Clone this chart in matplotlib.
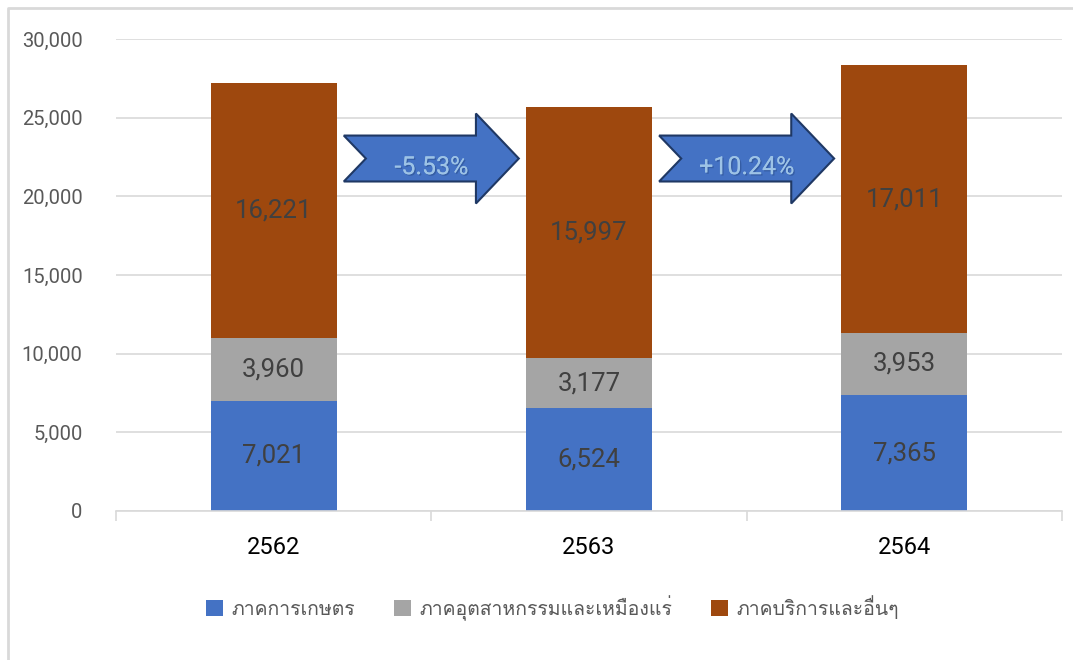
"""
Stacked bar chart of GDP by sector (2562-2564) with change arrows.
Saves out.png.
"""

import matplotlib

matplotlib.use("Agg")

import matplotlib.pyplot as plt
import matplotlib.patheffects as pe
from matplotlib import font_manager
from matplotlib.ft2font import FT2Font
from matplotlib.lines import Line2D
from matplotlib.patches import Polygon

# ---------------------------------------------------------------------------
# Data
# ---------------------------------------------------------------------------

YEARS = ["2562", "2563", "2564"]
SECTORS = ["ภาคการเกษตร", "ภาคอุตสาหกรรมและเหมืองแร่", "ภาคบริการและอื่นๆ"]
AGRI = [7021, 6524, 7365]
INDUSTRY = [3960, 3177, 3953]
SERVICE = [16221, 15997, 17011]

Y_TICKS = [0, 5000, 10000, 15000, 20000, 25000, 30000]

# Excel-ish palette
COLORS = ["#4472C4", "#A5A5A5", "#9E480E"]
GRID_COLOR = "#D9D9D9"
LABEL_COLOR = "#404040"
TICK_COLOR = "#595959"
ARROW_FILL = "#4472C4"
ARROW_EDGE = "#1F3864"
ARROW_TEXT = "#9DC3E6"


def find_thai_font():
    """Return the name of an installed family that has Thai glyphs, if any."""
    for f in font_manager.fontManager.ttflist:
        try:
            cmap = FT2Font(f.fname).get_charmap()
        except Exception:
            continue
        if 0x0E20 in cmap and 0x0E34 in cmap and 0x0E2D in cmap:
            return f.name
    return None


thai = find_thai_font()
families = ["Roboto", "DejaVu Sans"]
if thai:
    families.append(thai)
plt.rcParams["font.family"] = families
legend_families = ([thai] if thai else []) + ["Roboto", "DejaVu Sans"]


def arrow_shape(x0, length, yc, shaft_h, head_h, head_len, notch):
    """Notched block arrow outline, in data units."""
    x1 = x0 + length
    return [
        (x0, yc + shaft_h),
        (x1 - head_len, yc + shaft_h),
        (x1 - head_len, yc + head_h),
        (x1, yc),
        (x1 - head_len, yc - head_h),
        (x1 - head_len, yc - shaft_h),
        (x0, yc - shaft_h),
        (x0 + notch, yc),
    ]


def main():
    fig = plt.figure(figsize=(10.73, 6.6), dpi=100)
    ax = fig.add_axes([0.1081, 0.2258, 0.8816, 0.7152])

    x = list(range(len(YEARS)))
    width = 0.4
    bottoms = [0] * len(YEARS)
    for vals, color, name in zip([AGRI, INDUSTRY, SERVICE], COLORS, SECTORS):
        bars = ax.bar(x, vals, width, bottom=bottoms, color=color, label=name,
                      zorder=2)
        for b, v, base in zip(bars, vals, bottoms):
            ax.text(b.get_x() + b.get_width() / 2, base + v / 2, f"{v:,}",
                    ha="center", va="center", fontsize=18.5, color=LABEL_COLOR,
                    zorder=3)
        bottoms = [bb + v for bb, v in zip(bottoms, vals)]

    totals = bottoms

    # -- change arrows between the stacks --
    yc = 22400
    length = 0.555
    for i in range(len(YEARS) - 1):
        pct = (totals[i + 1] - totals[i]) / totals[i] * 100
        gap_mid = (x[i] + x[i + 1]) / 2
        x0 = gap_mid - length / 2
        pts = arrow_shape(x0, length, yc, 1460, 2860, 0.136, 0.07)
        ax.add_patch(Polygon(pts, closed=True, facecolor=ARROW_FILL,
                             edgecolor=ARROW_EDGE, linewidth=1.5, zorder=4))
        ax.text(gap_mid, yc - 550, f"{pct:+.2f}%", ha="center", va="center",
                fontsize=18, color=ARROW_TEXT, zorder=5,
                path_effects=[pe.withSimplePatchShadow(offset=(1, -1),
                                                       shadow_rgbFace="#2F5597",
                                                       alpha=0.7),
                              pe.Normal()])

    # -- axes styling --
    ax.set_xlim(-0.5, 2.5)
    ax.set_ylim(0, 30000)
    ax.set_yticks(Y_TICKS)
    ax.set_yticklabels([f"{t:,}" for t in Y_TICKS])
    ax.set_xticks(x)
    ax.set_xticklabels(YEARS)
    ax.set_xticks([-0.5, 0.5, 1.5, 2.5], minor=True)

    ax.tick_params(axis="y", length=0, pad=24, labelsize=14.5,
                   labelcolor=TICK_COLOR)
    ax.tick_params(axis="x", which="major", length=0, pad=18, labelsize=17,
                   labelcolor="black")
    ax.tick_params(axis="x", which="minor", length=7.5, width=1.2,
                   color=GRID_COLOR)

    ax.grid(axis="y", color=GRID_COLOR, linewidth=1.2, zorder=0)
    ax.set_axisbelow(True)
    for side in ["top", "right", "left"]:
        ax.spines[side].set_visible(False)
    ax.spines["bottom"].set_color(GRID_COLOR)
    ax.spines["bottom"].set_linewidth(1.2)

    leg = fig.legend(loc="center", bbox_to_anchor=(0.515, 0.079), ncol=3,
                     frameon=False, handlelength=0.85, handleheight=0.85,
                     handletextpad=0.45, columnspacing=2.0,
                     prop={"family": legend_families, "size": 14})
    for t in leg.get_texts():
        t.set_color(TICK_COLOR)

    # chart-area border (only top and left edges visible in the crop)
    bx = 8 / 1073
    by = 1 - 8 / 660
    fig.add_artist(Line2D([bx, bx, 1], [0, by, by], transform=fig.transFigure,
                          color=GRID_COLOR, linewidth=2))

    fig.savefig("out.png", dpi=100)
    plt.close(fig)


if __name__ == "__main__":
    main()
